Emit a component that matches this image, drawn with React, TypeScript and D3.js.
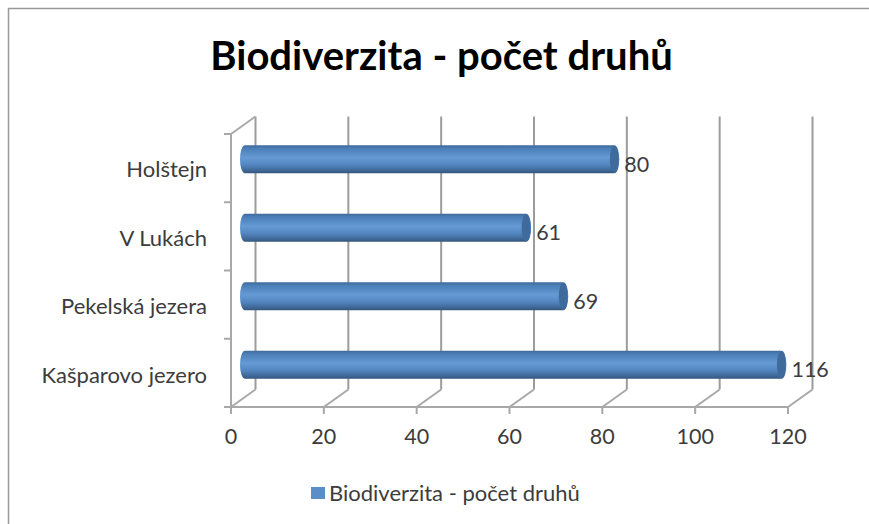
import React from "react";
import * as d3 from "d3";

const categories = ["Holštejn", "V Lukách", "Pekelská jezera", "Kašparovo jezero"];
const seriesValues = [80, 61, 69, 116];
const seriesName = "Biodiverzita - počet druhů";
const xTicks = [0, 20, 40, 60, 80, 100, 120];

const W = 869, H = 524;
const FONT = "Lato, Carlito, sans-serif";
const x = d3.scaleLinear().domain([0, 120]).range([231, 788]);
const yFront = d3.scaleBand().domain(categories).range([134, 407]);
const yBar = d3.scaleBand().domain(categories).range([125, 399]);
const DX = 24.5, DY = -17.5;
const AXIS = "#a8a8a8", GRID = "#9c9c9c", TXT = "#3c3c3c";
const BH = 28, RX = 5;
const BAR_X0 = 243;

export default function App() {
  const yBottom = 407;
  const yTop = 134;
  return (
    <svg width={W} height={H} viewBox={`0 0 ${W} ${H}`} style={{ position: "absolute", left: 0, top: 0, background: "#fff" }} fontFamily={FONT}>
      <defs>
        <linearGradient id="cyl" x1="0" y1="0" x2="0" y2="1">
          <stop offset="0" stopColor="#3f6a9c" />
          <stop offset="0.12" stopColor="#4c7fb8" />
          <stop offset="0.45" stopColor="#659ad4" />
          <stop offset="0.7" stopColor="#5386c0" />
          <stop offset="0.92" stopColor="#3c6592" />
          <stop offset="1" stopColor="#34557c" />
        </linearGradient>
      </defs>
      <path d="M8.5 524V8.5H869" fill="none" stroke="#999" strokeWidth={1.5} />
      <text x={441.5} y={70} textAnchor="middle" fontSize={40} fontWeight={700} fill="#000">{seriesName}</text>

      {xTicks.map(t => (
        <g key={t}>
          <line x1={x(t) + DX} x2={x(t) + DX} y1={yTop + DY} y2={yBottom + DY} stroke={GRID} strokeWidth={2} />
          <line x1={x(t)} x2={x(t) + DX} y1={yBottom} y2={yBottom + DY} stroke={AXIS} strokeWidth={2} />
          <line x1={x(t)} x2={x(t)} y1={yBottom} y2={yBottom + 7} stroke={AXIS} strokeWidth={2} />
          <text x={x(t)} y={444} textAnchor="middle" fontSize={21.5} fill={TXT}>{t}</text>
        </g>
      ))}
      <line x1={x(0)} x2={x(120)} y1={yBottom} y2={yBottom} stroke={AXIS} strokeWidth={2} />
      <line x1={x(0)} x2={x(0)} y1={yTop} y2={yBottom} stroke={AXIS} strokeWidth={2} />
      <line x1={x(0)} x2={x(0) + DX} y1={yTop} y2={yTop + DY} stroke={AXIS} strokeWidth={2} />
      {[...categories.map(c => yFront(c)!), yBottom].map((t, i) => (
        <line key={i} x1={x(0) - 7} x2={x(0)} y1={t} y2={t} stroke={AXIS} strokeWidth={2} />
      ))}

      {categories.map((c, i) => {
        const cy = yBar(c)! + yBar.bandwidth() / 2;
        const ex = BAR_X0 + (x(seriesValues[i]) - x(0));
        const top = cy - BH / 2;
        return (
          <g key={c}>
            <text x={207} y={cy + 18} textAnchor="end" fontSize={22} fill={TXT}>{c}</text>
            <path
              d={`M${BAR_X0 + 2} ${top}H${ex}A${RX} ${BH / 2} 0 0 1 ${ex} ${top + BH}H${BAR_X0 + 2}A${RX} ${BH / 2} 0 0 1 ${BAR_X0 + 2} ${top}Z`}
              fill="url(#cyl)"
            />
            <ellipse cx={ex} cy={cy} rx={RX - 0.5} ry={BH / 2 - 0.5} fill="#3f6a9c" />
            <text x={ex + 10} y={cy + 12.5} fontSize={21.5} fill={TXT}>{seriesValues[i]}</text>
          </g>
        );
      })}

      <rect x={311} y={487} width={14} height={12} fill="#5b8ec9" />
      <text x={329} y={501} fontSize={22} fill={TXT}>{seriesName}</text>
    </svg>
  );
}
